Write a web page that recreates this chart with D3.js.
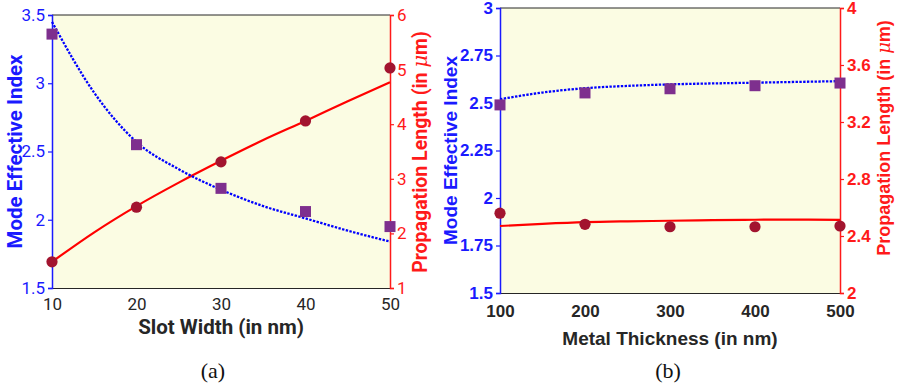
<!DOCTYPE html>
<html>
<head>
<meta charset="utf-8">
<script src="https://cdn.jsdelivr.net/npm/d3@7"></script>
<style>
  html, body { margin: 0; padding: 0; background: #ffffff; }
  svg { display: block; }
</style>
</head>
<body>
<svg id="fig" width="897" height="392"></svg>
<script>
// ---- (a) slot width sweep ----
const slotWidth   = [10, 20, 30, 40, 50];
const slotIndex   = [3.36, 2.55, 2.23, 2.06, 1.95];
const slotLength  = [1.48, 2.48, 3.31, 4.06, 5.03];
const slotFitX      = [10, 15, 20, 25, 30, 35, 40, 45, 50];
const slotIndexFit  = [3.45, 2.93, 2.57, 2.37, 2.22, 2.10, 2.01, 1.92, 1.84];
const slotLengthFit = [1.48, 2.02, 2.50, 2.93, 3.33, 3.71, 4.06, 4.42, 4.77];
const slotXTicks      = [10, 20, 30, 40, 50];
const slotIndexTicks  = [1.5, 2, 2.5, 3, 3.5];
const slotLengthTicks = [1, 2, 3, 4, 5, 6];

// ---- (b) metal thickness sweep ----
const thickness    = [100, 200, 300, 400, 500];
const thickIndex   = [2.49, 2.553, 2.575, 2.591, 2.605];
const thickLength  = [2.56, 2.482, 2.465, 2.465, 2.47];
const thickFitX      = [100, 150, 200, 250, 300, 350, 400, 450, 500];
const thickIndexFit  = [2.52, 2.555, 2.578, 2.59, 2.598, 2.603, 2.607, 2.611, 2.615];
const thickLengthFit = [2.47, 2.485, 2.497, 2.503, 2.507, 2.511, 2.514, 2.515, 2.513];
const thickXTicks      = [100, 200, 300, 400, 500];
const thickIndexTicks  = [1.5, 1.75, 2, 2.25, 2.5, 2.75, 3];
const thickLengthTicks = [2, 2.4, 2.8, 3.2, 3.6, 4];

const BG = "#fbfce3", BLUE = "#1a1aff", RED = "#ff1a1a", DARK = "#262626";
const SQ = "#7e2f8e", CIRC = "#a2142f";

const svg = d3.select("#fig");

function panel(cfg) {
  const g = svg.append("g");
  const x = d3.scaleLinear().domain(cfg.xDomain).range([cfg.left, cfg.right]);
  const yL = d3.scaleLinear().domain(cfg.yLDomain).range([cfg.bottom, cfg.top]);
  const yR = d3.scaleLinear().domain(cfg.yRDomain).range([cfg.bottom, cfg.top]);

  g.append("rect")
    .attr("x", cfg.left).attr("y", cfg.top)
    .attr("width", cfg.right - cfg.left).attr("height", cfg.bottom - cfg.top)
    .attr("fill", BG);

  // top box edge
  g.append("line")
    .attr("x1", cfg.left).attr("x2", cfg.right)
    .attr("y1", cfg.top).attr("y2", cfg.top)
    .attr("stroke", DARK).attr("stroke-width", 1);

  // bottom axis
  const xa = g.append("g").attr("transform", `translate(0,${cfg.bottom})`)
    .call(d3.axisBottom(x).tickValues(cfg.xTicks).tickSize(0).tickPadding(cfg.xTickPad)
      .tickFormat(d3.format("d")));
  xa.select(".domain").attr("stroke", DARK).attr("stroke-width", 1);
  xa.selectAll("text").attr("fill", DARK).attr("font-family", cfg.font)
    .attr("font-size", cfg.tickSize).attr("font-weight", cfg.tickWeight);

  // left axis
  const la = g.append("g").attr("transform", `translate(${cfg.left},0)`)
    .call(d3.axisLeft(yL).tickValues(cfg.yLTicks).tickSize(4).tickPadding(3)
      .tickFormat(d => String(d)));
  la.select(".domain").attr("stroke", BLUE).attr("stroke-width", 1.5);
  la.selectAll("line").attr("stroke", BLUE).attr("stroke-width", 1.2);
  la.selectAll("text").attr("fill", BLUE).attr("font-family", cfg.font)
    .attr("font-size", cfg.tickSize).attr("font-weight", cfg.tickWeight);

  // right axis
  const ra = g.append("g").attr("transform", `translate(${cfg.right},0)`)
    .call(d3.axisRight(yR).tickValues(cfg.yRTicks).tickSize(4).tickPadding(3)
      .tickFormat(d => String(d)));
  ra.select(".domain").attr("stroke", RED).attr("stroke-width", 1.5);
  ra.selectAll("line").attr("stroke", RED).attr("stroke-width", 1.2);
  ra.selectAll("text").attr("fill", RED).attr("font-family", cfg.font)
    .attr("font-size", cfg.tickSize).attr("font-weight", cfg.tickWeight);

  // fitted curves
  const lineL = d3.line().x((d, i) => x(cfg.fitX[i])).y(d => yL(d)).curve(d3.curveMonotoneX);
  const lineR = d3.line().x((d, i) => x(cfg.fitX[i])).y(d => yR(d)).curve(d3.curveMonotoneX);

  g.append("path").datum(cfg.lengthFit)
    .attr("d", lineR).attr("fill", "none")
    .attr("stroke", "#ff0000").attr("stroke-width", 2.2);
  g.append("path").datum(cfg.indexFit)
    .attr("d", lineL).attr("fill", "none")
    .attr("stroke", "#0000ff").attr("stroke-width", 2.3)
    .attr("stroke-dasharray", "2.4,1.4");

  // measured points
  const s = 11;
  g.selectAll("rect.sq").data(cfg.index).join("rect").attr("class", "sq")
    .attr("x", (d, i) => x(cfg.xs[i]) - s / 2).attr("y", d => yL(d) - s / 2)
    .attr("width", s).attr("height", s).attr("fill", SQ);
  g.selectAll("circle.pt").data(cfg.length).join("circle").attr("class", "pt")
    .attr("cx", (d, i) => x(cfg.xs[i])).attr("cy", d => yR(d))
    .attr("r", 5.6).attr("fill", CIRC);

  // axis titles
  g.append("text")
    .attr("x", (cfg.left + cfg.right) / 2).attr("y", cfg.xLabelY)
    .attr("text-anchor", "middle").attr("fill", DARK)
    .attr("font-family", cfg.font).attr("font-weight", "bold").attr("font-size", cfg.labelSize)
    .text(cfg.xLabel);

  const midY = (cfg.top + cfg.bottom) / 2;
  g.append("text")
    .attr("transform", `translate(${cfg.yLLabelX},${midY}) rotate(-90)`)
    .attr("text-anchor", "middle").attr("fill", BLUE)
    .attr("font-family", cfg.font).attr("font-weight", "bold").attr("font-size", cfg.labelSize)
    .text("Mode Effective Index");

  const rt = g.append("text")
    .attr("transform", `translate(${cfg.yRLabelX},${cfg.yRLabelY}) rotate(-90)`)
    .attr("text-anchor", "middle").attr("fill", RED)
    .attr("font-family", cfg.font).attr("font-weight", "bold").attr("font-size", cfg.rLabelSize);
  rt.append("tspan").text("Propagation Length (in ");
  rt.append("tspan").attr("font-style", "italic").attr("font-family", "DejaVu Serif")
    .attr("font-weight", "normal").text("μ");
  rt.append("tspan").text("m)");

  g.append("text")
    .attr("x", cfg.capX).attr("y", 378)
    .attr("text-anchor", "middle").attr("fill", "#111")
    .attr("font-family", "Liberation Serif, DejaVu Serif, serif").attr("font-size", 22)
    .text(cfg.caption);
}

panel({
  left: 52, right: 390, top: 15, bottom: 288,
  xDomain: [10, 50], yLDomain: [1.5, 3.5], yRDomain: [1, 6],
  xTicks: slotXTicks, yLTicks: slotIndexTicks, yRTicks: slotLengthTicks,
  xs: slotWidth, index: slotIndex, length: slotLength,
  fitX: slotFitX, indexFit: slotIndexFit, lengthFit: slotLengthFit,
  font: "Roboto, sans-serif", tickSize: 17, tickWeight: "normal",
  labelSize: 20.5, rLabelSize: 19.5,
  xTickPad: 10, xLabel: "Slot Width (in nm)", xLabelY: 334,
  yLLabelX: 22, yRLabelX: 427, yRLabelY: 152, capX: 213, caption: "(a)"
});

panel({
  left: 500, right: 840, top: 8, bottom: 293,
  xDomain: [100, 500], yLDomain: [1.5, 3], yRDomain: [2, 4],
  xTicks: thickXTicks, yLTicks: thickIndexTicks, yRTicks: thickLengthTicks,
  xs: thickness, index: thickIndex, length: thickLength,
  fitX: thickFitX, indexFit: thickIndexFit, lengthFit: thickLengthFit,
  font: "Liberation Sans, Arial, sans-serif", tickSize: 17, tickWeight: "bold",
  labelSize: 19, rLabelSize: 18,
  xTickPad: 12, xLabel: "Metal Thickness (in nm)", xLabelY: 345,
  yLLabelX: 457, yRLabelX: 890, yRLabelY: 138, capX: 668, caption: "(b)"
});
</script>
</body>
</html>
